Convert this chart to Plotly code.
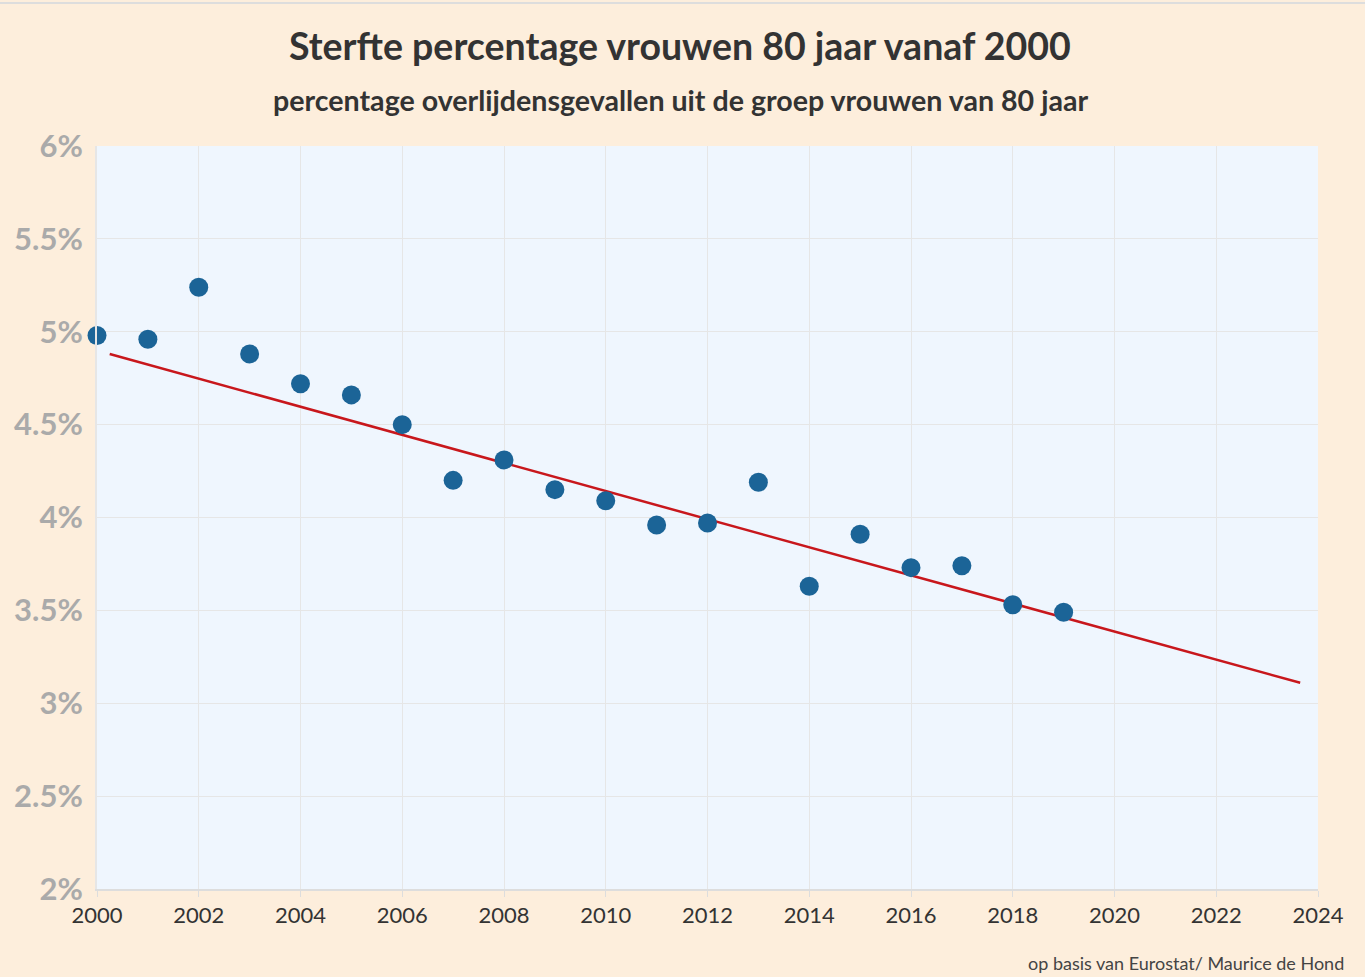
import plotly.graph_objects as go

years = list(range(2000, 2020))
sterfte = [4.98, 4.96, 5.24, 4.88, 4.72, 4.66, 4.50, 4.20, 4.31, 4.15,
           4.09, 3.96, 3.97, 4.19, 3.63, 3.91, 3.73, 3.74, 3.53, 3.49]
trend_x = [2000.25, 2023.65]
trend_y = [4.88, 3.11]
x_ticks = list(range(2000, 2025, 2))
y_ticks = [2, 2.5, 3, 3.5, 4, 4.5, 5, 5.5, 6]
y_labels = ["2%", "2.5%", "3%", "3.5%", "4%", "4.5%", "5%", "5.5%", "6%"]

FONT = "Source Sans Pro, Lato, Noto Sans, sans-serif"

fig = go.Figure()
fig.add_trace(go.Scatter(x=trend_x, y=trend_y, mode="lines",
                         line=dict(color="#C8171C", width=2.5), hoverinfo="skip"))
fig.add_trace(go.Scatter(x=years, y=sterfte, mode="markers", cliponaxis=False,
                         marker=dict(color="#1B6497", size=19)))

fig.update_layout(
    width=1365, height=977,
    paper_bgcolor="#FDEEDC", plot_bgcolor="#EFF6FE",
    showlegend=False,
    margin=dict(l=97, r=47, t=146, b=88),
    font=dict(family=FONT),
)
ph = 977 - 146 - 88
pw = 1365 - 97 - 47
fig.add_annotation(text="<b>Sterfte percentage vrouwen 80 jaar vanaf 2000</b>",
                   xref="paper", yref="paper", x=(680 - 97) / pw,
                   y=1 + (146 - 46) / ph, xanchor="center", yanchor="middle",
                   showarrow=False, font=dict(size=37.5, color="#333333", family=FONT))
fig.add_annotation(text="<b>percentage overlijdensgevallen uit de groep vrouwen van 80 jaar</b>",
                   xref="paper", yref="paper", x=(680 - 97) / pw,
                   y=1 + (146 - 100) / ph, xanchor="center", yanchor="middle",
                   showarrow=False, font=dict(size=28.6, color="#333333", family=FONT))
fig.add_annotation(text="op basis van Eurostat/ Maurice de Hond",
                   xref="paper", yref="paper", x=(1346 - 97) / pw,
                   y=-(963 - 889) / ph, xanchor="right", yanchor="middle",
                   showarrow=False, font=dict(size=18, color="#444444", family=FONT))

fig.update_xaxes(range=[2000, 2024], tickvals=x_ticks, ticktext=[str(t) for t in x_ticks],
                 showgrid=True, gridcolor="#E6E6E6", gridwidth=1,
                 showline=True, linecolor="#DDDDDD", linewidth=2,
                 ticks="outside", ticklen=6, tickcolor="#DDDDDD", tickwidth=1,
                 tickfont=dict(size=22, color="#333333", family=FONT), zeroline=False)
fig.update_yaxes(range=[2, 6], tickvals=y_ticks, ticktext=y_labels,
                 showgrid=True, gridcolor="#E6E6E6", gridwidth=1,
                 showline=True, linecolor="#E6E6E6", linewidth=2,
                 ticks="", ticklabelstandoff=6,
                 tickfont=dict(size=31, color="#AAAAAA", family=FONT, weight="bold"),
                 zeroline=False)

fig.add_shape(type="line", xref="paper", yref="paper", x0=-97 / pw, x1=1 + 47 / pw,
              y0=1 + 143 / ph, y1=1 + 143 / ph, line=dict(color="#DDDDDD", width=2))

fig.write_html("out.html")
